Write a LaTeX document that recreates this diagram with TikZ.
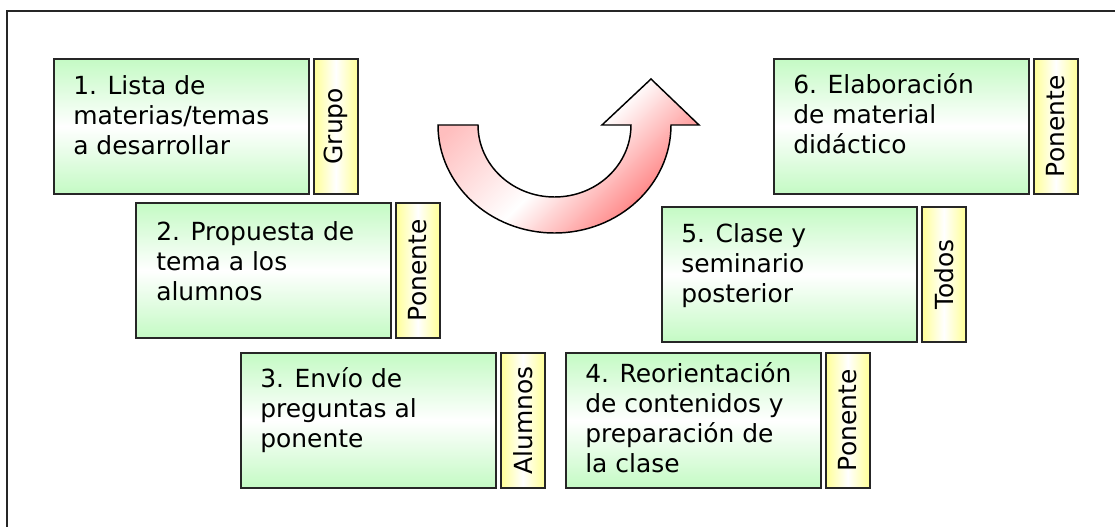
\documentclass[tikz,border=0pt]{standalone}
\usepackage{fontspec}
\setmainfont{DejaVu Sans}
\definecolor{boxg}{RGB}{196,250,196}
\definecolor{tagy}{RGB}{255,255,150}
\definecolor{arrpink}{RGB}{255,190,190}
\definecolor{arrred}{RGB}{255,105,105}
\begin{document}
\begin{tikzpicture}[x=0.75pt,y=-0.75pt,
  box/.style={draw=black!85, line width=1.2pt, top color=boxg, bottom color=boxg, middle color=white,
    minimum width=191.25pt, minimum height=101.25pt, inner sep=0pt, anchor=north west},
  tagbox/.style={draw=black!85, line width=1.2pt, left color=tagy, right color=tagy, middle color=white,
    minimum width=33pt, minimum height=101.25pt, inner sep=0pt, anchor=north west},
  boxtext/.style={anchor=north west, inner sep=0pt, align=left, font=\fontsize{18.7}{22.5}\selectfont},
  tagtext/.style={rotate=90, inner sep=0pt, font=\fontsize{18.7}{22.5}\selectfont}]
\useasboundingbox (0,0) rectangle (1115,527);
% frame
\draw[line width=1.5pt, black!85] (7,527) -- (7,11) -- (1115,11);
% curved arrow
\path[draw=black, line width=1.1pt, left color=arrpink, right color=arrred, middle color=white, shading angle=45]
  (438,125) -- (478,125)
  arc[start angle=180, end angle=0, x radius=76.5, y radius=72]
  -- (602,125) -- (651,79) -- (699,125) -- (671,125)
  arc[start angle=0, end angle=180, x radius=116.5, y radius=108] -- cycle;
% boxes
\node[box] (b1) at (53,58) {};
\node[tagbox] (t1) at (313,58) {};
\node[box] (b2) at (135,202) {};
\node[tagbox] (t2) at (395,202) {};
\node[box] (b3) at (240,352) {};
\node[tagbox] (t3) at (500,352) {};
\node[box] (b4) at (565,352) {};
\node[tagbox] (t4) at (825,352) {};
\node[box] (b5) at (661,206) {};
\node[tagbox] (t5) at (921,206) {};
\node[box] (b6) at (773,58) {};
\node[tagbox] (t6) at (1033,58) {};
% texts
\node[boxtext] (x1) at (73,73) {\strut 1. Lista de\\materias/temas\\a desarrollar};
\node[boxtext] (x2) at (156,219) {\strut 2. Propuesta de\\tema a los\\alumnos};
\node[boxtext] (x3) at (260,366) {\strut 3. Envío de\\preguntas al\\ponente};
\node[boxtext] (x4) at (585,361) {\strut 4. Reorientación\\de contenidos y\\preparación de\\la clase};
\node[boxtext] (x5) at (681,221) {\strut 5. Clase y\\seminario\\posterior};
\node[boxtext] (x6) at (793,72) {\strut 6. Elaboración\\de material\\didáctico};
\node[tagtext] (y1) at (t1.center) {Grupo};
\node[tagtext] (y2) at (t2.center) {Ponente};
\node[tagtext] (y3) at (t3.center) {Alumnos};
\node[tagtext] (y4) at (t4.center) {Ponente};
\node[tagtext] (y5) at (t5.center) {Todos};
\node[tagtext] (y6) at (t6.center) {Ponente};
\end{tikzpicture}
\end{document}
